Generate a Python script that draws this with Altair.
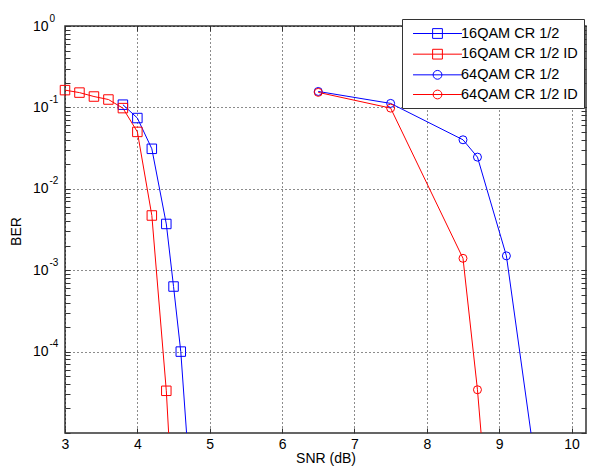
import altair as alt
import pandas as pd

# ---- data ----
series = ["16QAM CR 1/2", "16QAM CR 1/2 ID", "64QAM CR 1/2", "64QAM CR 1/2 ID"]
colors = ["#0000ff", "#ff0000", "#0000ff", "#ff0000"]
markers = ["square", "square", "circle", "circle"]

snr_16 = [3.8, 4.0, 4.2, 4.4, 4.5, 4.6, 4.7]
ber_16 = [0.108, 0.074, 0.031, 0.0037, 0.00063, 0.0001, 5.6e-6]

snr_16_id = [3.0, 3.2, 3.4, 3.6, 3.8, 4.0, 4.2, 4.4, 4.6]
ber_16_id = [0.163, 0.152, 0.136, 0.125, 0.098, 0.050, 0.0047, 3.3e-5, 2e-8]

snr_64 = [6.5, 7.5, 8.5, 8.7, 9.1, 9.5]
ber_64 = [0.157, 0.112, 0.040, 0.0245, 0.0015, 4.1e-6]

snr_64_id = [6.5, 7.5, 8.5, 8.7, 8.9]
ber_64_id = [0.153, 0.098, 0.0014, 3.4e-5, 2.5e-7]

x_ticks = [3, 4, 5, 6, 7, 8, 9, 10]
y_ticks = [1, 0.1, 0.01, 0.001, 0.0001]
y_exponents = ["0", "-1", "-2", "-3", "-4"]

rows = []
for name, xs, ys, mk in zip(series, [snr_16, snr_16_id, snr_64, snr_64_id],
                            [ber_16, ber_16_id, ber_64, ber_64_id], markers):
    for x, y in zip(xs, ys):
        rows.append({"series": name, "snr": x, "ber": y, "marker": mk})
df = pd.DataFrame(rows)

FONT = "Liberation Sans"
AX = "#333333"
W, H = 521, 407

xscale = alt.Scale(domain=[3, 10.2], nice=False, zero=False)
yscale = alt.Scale(type="log", domain=[1e-5, 1], nice=False)
cscale = alt.Scale(domain=series, range=colors)

minor_y = [k * 10.0 ** e for e in range(-5, 0) for k in range(1, 10)] + [1.0]

# exponent label expression built from tick lists
exp_expr = " : ".join(
    f"datum.value > {v * 0.5} ? '{e}'" for v, e in zip(y_ticks, y_exponents)
) + " : ''"


def tick_axis(orient, offset, values):
    return alt.Axis(orient=orient, offset=offset, values=values, labels=False,
                    grid=False, domain=False, ticks=True, tickSize=5,
                    tickColor=AX, tickWidth=1, title=None)


x_main = alt.Axis(orient="bottom", values=x_ticks, grid=True, gridDash=[1, 3],
                  gridColor="#000000", gridOpacity=0.9, gridWidth=1,
                  domain=False, ticks=False, tickSize=0,
                  labelFont=FONT, labelFontSize=14, labelColor="#000000",
                  labelPadding=11, labelBaseline="middle", labelFlush=False,
                  labelOverlap=False,
                  title="SNR (dB)", titleFont=FONT, titleFontSize=14,
                  titleFontWeight="normal", titleColor="#000000",
                  titleX=W / 2, titleY=25, titleBaseline="middle", titleAlign="center")

y_main = alt.Axis(orient="left", values=y_ticks, grid=True, gridDash=[1, 3],
                  gridColor="#000000", gridOpacity=0.9, gridWidth=1,
                  domain=False, ticks=False, tickSize=0,
                  labelExpr="'10'", labelFont=FONT, labelFontSize=14,
                  labelColor="#000000", labelPadding=17, labelAlign="right",
                  labelBaseline="middle", labelFlush=False, labelOverlap=False,
                  title="BER", titleFont=FONT, titleFontSize=14,
                  titleFontWeight="normal", titleColor="#000000",
                  titleX=-49, titleY=205, titleAngle=270,
                  titleBaseline="middle", titleAlign="center")

y_exp = alt.Axis(orient="left", values=y_ticks, grid=False, domain=False,
                 ticks=False, tickSize=0, labelExpr=exp_expr, labelFont=FONT,
                 labelFontSize=10, labelColor="#000000", labelPadding=16,
                 labelAlign="left", labelBaseline="middle", labelOffset=-8,
                 labelFlush=False, labelOverlap=False, title=None)

base = alt.Chart(df)

lines = base.mark_line(clip=True, strokeWidth=1).encode(
    x=alt.X("snr:Q", scale=xscale, axis=x_main),
    y=alt.Y("ber:Q", scale=yscale, axis=y_main),
    color=alt.Color("series:N", scale=cscale, legend=None),
    detail="series:N",
)

squares = base.transform_filter(
    "datum.ber >= 1e-5 && datum.marker == 'square'"
).mark_point(shape="square", size=90, filled=False, strokeWidth=1, opacity=1).encode(
    x=alt.X("snr:Q", scale=xscale, axis=tick_axis("top", -H, x_ticks)),
    y=alt.Y("ber:Q", scale=yscale, axis=tick_axis("right", -W, minor_y)),
    color=alt.Color("series:N", scale=cscale, legend=None),
)

circles = base.transform_filter(
    "datum.ber >= 1e-5 && datum.marker == 'circle'"
).mark_point(shape="circle", size=64, filled=False, strokeWidth=1, opacity=1).encode(
    x=alt.X("snr:Q", scale=xscale, axis=tick_axis("bottom", -H, x_ticks)),
    y=alt.Y("ber:Q", scale=yscale, axis=tick_axis("left", -W, minor_y)),
    color=alt.Color("series:N", scale=cscale, legend=None),
)

# legend symbols: line with square / circle marker (path units = 8 px)
sq_path = "M-3.06,0L3.06,0M-0.61,-0.61L0.61,-0.61L0.61,0.61L-0.61,0.61Z"
ci_path = "M0.55,0A0.55,0.55,0,1,1,-0.55,0A0.55,0.55,0,1,1,0.55,0Z M-3.06,0L3.06,0"
legend_shapes = [sq_path, sq_path, ci_path, ci_path]

leg = alt.Legend(title=None, orient="none", legendX=337, legendY=-7, padding=6,
                 fillColor="white", strokeColor=AX, symbolSize=256,
                 symbolStrokeWidth=1, symbolFillColor="transparent",
                 labelFont=FONT, labelFontSize=14.5, labelColor="#000000",
                 labelOffset=15, symbolOffset=21, rowPadding=4.67,
                 labelLimit=300, cornerRadius=0)

legend_layer = base.transform_filter("false").mark_point(
    filled=False, size=256, strokeWidth=1, opacity=1
).encode(
    x=alt.X("snr:Q", scale=xscale, axis=None),
    y=alt.Y("ber:Q", scale=yscale, axis=y_exp),
    color=alt.Color("series:N", scale=cscale, legend=leg),
    shape=alt.Shape("series:N", scale=alt.Scale(domain=series, range=legend_shapes),
                    legend=leg),
)

chart = alt.layer(lines, squares, circles, legend_layer).resolve_scale(
    color="independent", shape="independent"
).resolve_axis(
    x="independent", y="independent"
).properties(
    width=W, height=H,
    autosize=alt.AutoSizeParams(type="none"),
    padding={"left": 57, "top": 18, "right": 1, "bottom": 33},
    background="white",
).configure_view(
    stroke=AX, strokeWidth=1.5
)

chart.save("out.html", embed_options={"renderer": "svg", "actions": False})
